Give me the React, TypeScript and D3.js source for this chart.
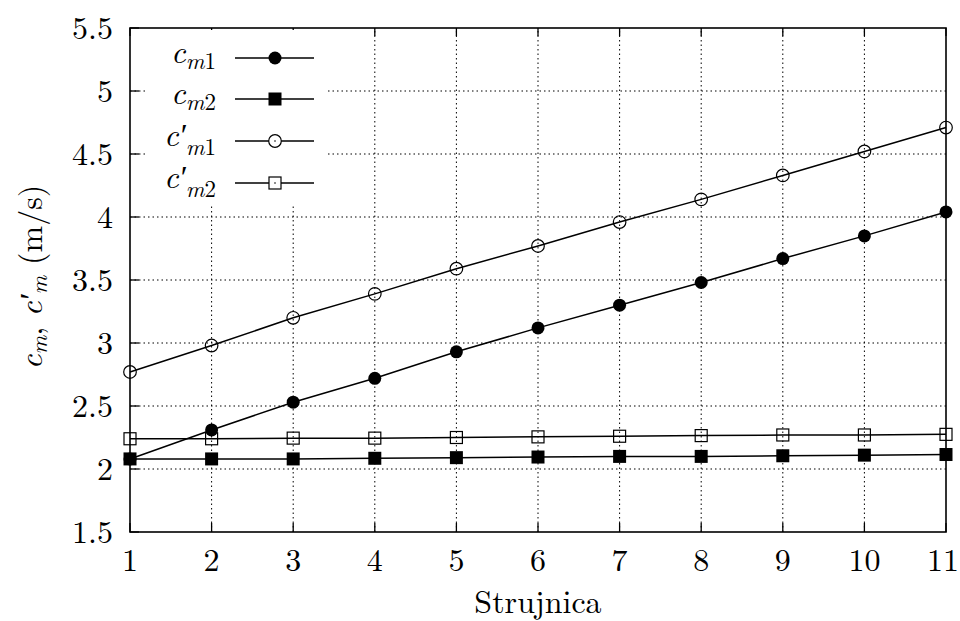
import React from "react";
import * as d3 from "d3";

const streamlines = [1, 2, 3, 4, 5, 6, 7, 8, 9, 10, 11];
const cm1 = [2.08, 2.31, 2.53, 2.72, 2.93, 3.12, 3.30, 3.48, 3.67, 3.85, 4.04];
const cm2 = [2.08, 2.08, 2.08, 2.085, 2.09, 2.095, 2.10, 2.10, 2.105, 2.11, 2.115];
const cm1p = [2.77, 2.98, 3.20, 3.39, 3.59, 3.77, 3.96, 4.14, 4.33, 4.52, 4.71];
const cm2p = [2.24, 2.24, 2.245, 2.245, 2.25, 2.255, 2.26, 2.265, 2.27, 2.27, 2.275];
const yTicks = [1.5, 2, 2.5, 3, 3.5, 4, 4.5, 5, 5.5];
const yTickLabels = ["1.5", "2", "2.5", "3", "3.5", "4", "4.5", "5", "5.5"];
const xTickLabels = ["1", "2", "3", "4", "5", "6", "7", "8", "9", "10", "11"];
const xTitle = "Strujnica";

const W = 960, H = 621;
const L = 130, R = 946, T = 28, B = 532;
const FONT = '"Latin Modern Roman", "Liberation Serif", serif';
const tf: React.CSSProperties = { fontFamily: FONT };

type Marker = "fcircle" | "fsquare" | "ocircle" | "osquare";
const series: { name: string; sub: string; prime: boolean; values: number[]; marker: Marker }[] = [
  { name: "c", sub: "m1", prime: false, values: cm1, marker: "fcircle" },
  { name: "c", sub: "m2", prime: false, values: cm2, marker: "fsquare" },
  { name: "c", sub: "m1", prime: true, values: cm1p, marker: "ocircle" },
  { name: "c", sub: "m2", prime: true, values: cm2p, marker: "osquare" },
];

function MarkerShape({ type, x, y, legend }: { type: Marker; x: number; y: number; legend?: boolean }) {
  const fillOpen = legend ? "#fff" : "none";
  if (type === "fcircle") return <circle cx={x} cy={y} r={6.5} fill="#000" />;
  if (type === "fsquare") return <rect x={x - 6.5} y={y - 6.5} width={13} height={13} fill="#000" />;
  if (type === "ocircle")
    return (
      <g>
        <circle cx={x} cy={y} r={6.3} fill={fillOpen} stroke="#000" strokeWidth={1.2} />
        {legend && <circle cx={x} cy={y} r={0.8} fill="#000" />}
      </g>
    );
  return (
    <g>
      <rect x={x - 6} y={y - 6} width={12} height={12} fill={fillOpen} stroke="#000" strokeWidth={1.2} />
      {legend && <circle cx={x} cy={y} r={0.8} fill="#000" />}
    </g>
  );
}

export default function App() {
  const x = d3.scaleLinear().domain([1, 11]).range([L, R]);
  const y = d3.scaleLinear().domain([1.5, 5.5]).range([B, T]);
  const line = d3
    .line<number>()
    .x((_, i) => x(streamlines[i]))
    .y((d) => y(d));

  const lgX0 = 147, lgX1 = 328, lgY0 = 30, lgY1 = 205;
  const legendRows = [58, 99, 141, 183];

  return (
    <svg width={W} height={H} style={{ position: "absolute", left: 0, top: 0, background: "#fff" }}>
      {/* grid */}
      <g stroke="#000" strokeWidth={1} strokeDasharray="1.5,3">
        {streamlines.slice(1, -1).map((v) => (
          <line key={"gx" + v} x1={x(v)} x2={x(v)} y1={B} y2={T} />
        ))}
        {yTicks.slice(1, -1).map((v) => (
          <line key={"gy" + v} x1={L} x2={R} y1={y(v)} y2={y(v)} />
        ))}
      </g>
      {/* ticks */}
      <g stroke="#000" strokeWidth={1.3}>
        {streamlines.map((v) => (
          <g key={"tx" + v}>
            <line x1={x(v)} x2={x(v)} y1={B} y2={B - 9} />
            <line x1={x(v)} x2={x(v)} y1={T} y2={T + 8} />
          </g>
        ))}
        {yTicks.map((v) => (
          <line key={"ty" + v} x1={L} x2={L + 9} y1={y(v)} y2={y(v)} />
        ))}
      </g>
      <rect x={lgX0} y={lgY0} width={lgX1 - lgX0} height={lgY1 - lgY0} fill="#fff" />
      {series.map((s, si) => (
        <g key={"s" + si}>
          <path d={line(s.values) || ""} fill="none" stroke="#000" strokeWidth={1.5} />
          {s.values.map((v, i) => (
            <MarkerShape key={i} type={s.marker} x={x(streamlines[i])} y={y(v)} />
          ))}
        </g>
      ))}
      <rect x={L} y={T} width={R - L} height={B - T} fill="none" stroke="#000" strokeWidth={1.6} />
      <g fontSize={32} fill="#000">
        {yTicks.map((v, i) => (
          <text key={"yl" + v} x={113} y={y(v) + 10.5} textAnchor="end" style={tf}>
            {yTickLabels[i]}
          </text>
        ))}
        {streamlines.map((v, i) => (
          <text
            key={"xl" + v}
            x={Math.min(x(v), W - 17)}
            y={571}
            textAnchor="middle"
            style={tf}
          >
            {xTickLabels[i]}
          </text>
        ))}
      </g>
      <text x={(L + R) / 2} y={613} fontSize={32} textAnchor="middle" style={tf}>
        {xTitle}
      </text>
      <text transform={`translate(42, 277) rotate(-90)`} fontSize={32} textAnchor="middle" style={tf}>
        <tspan fontStyle="italic">c</tspan>
        <tspan fontStyle="italic" fontSize={23} dy={5}>m</tspan>
        <tspan dy={-5}>,  </tspan>
        <tspan fontStyle="italic">c′</tspan>
        <tspan fontStyle="italic" fontSize={23} dy={5}>m</tspan>
        <tspan dy={-5}>  (m/s)</tspan>
      </text>
      {series.map((s, i) => {
        const ry = legendRows[i];
        return (
          <g key={"lg" + i}>
            <text x={216} y={ry + 5} fontSize={32} textAnchor="end" style={tf}>
              <tspan fontStyle="italic">{s.name + (s.prime ? "′" : "")}</tspan>
              <tspan fontSize={23} dy={s.prime ? 9 : 6}>
                <tspan fontStyle="italic">{s.sub[0]}</tspan>
                <tspan>{s.sub.slice(1)}</tspan>
              </tspan>
            </text>
            <line x1={235} x2={314} y1={ry} y2={ry} stroke="#000" strokeWidth={1.5} />
            <MarkerShape type={s.marker} x={275} y={ry} legend />
          </g>
        );
      })}
    </svg>
  );
}
